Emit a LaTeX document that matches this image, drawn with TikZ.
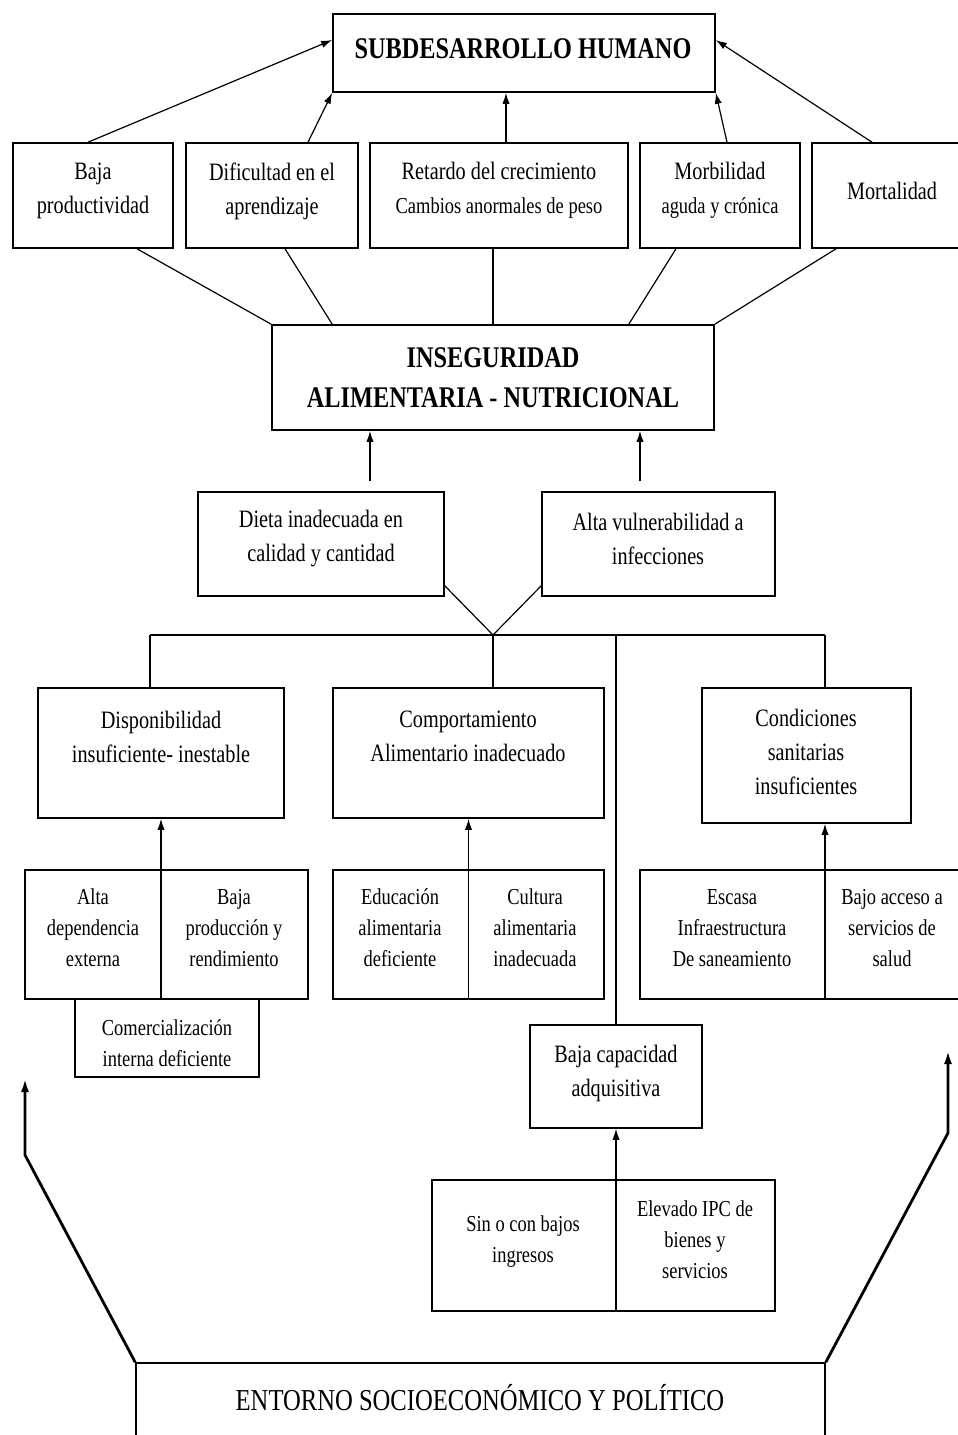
\documentclass[tikz,border=0pt]{standalone}
\usepackage{fontspec}
\setmainfont[FakeStretch=0.81]{Liberation Serif}
\usetikzlibrary{arrows.meta,fit,calc}
\begin{document}
\begin{tikzpicture}[x=0.5pt,y=-0.5pt,
 box/.style={draw, line width=0.8pt, inner sep=0pt},
 txt/.style={align=center, inner sep=0pt, font=\fontsize{12.5}{17}\selectfont},
 stxt/.style={align=center, inner sep=0pt, font=\fontsize{11.4}{15.5}\selectfont},
 btxt/.style={align=center, inner sep=0pt, font=\bfseries\fontsize{15}{20}\selectfont},
 ln/.style={line width=0.6pt},
 arr/.style={line width=0.6pt, -{Latex[length=5.5pt,width=3.6pt]}},
 bigarr/.style={line width=1.4pt, -{Latex[length=7pt,width=4pt]}}
]
\useasboundingbox (0,0) rectangle (958,1435);
% boxes
\node[box, fit={(333,14) (715,92)}] (sub) {};
\node[box, fit={(13,143) (173,248)}] (bajap) {};
\node[box, fit={(186,143) (358,248)}] (difi) {};
\node[box, fit={(370,143) (628,248)}] (reta) {};
\node[box, fit={(640,143) (800,248)}] (morb) {};
\node[box, fit={(812,143) (962,248)}] (mort) {};
\node[box, fit={(272,325) (714,430)}] (ins) {};
\node[box, fit={(198,492) (444,596)}] (dieta) {};
\node[box, fit={(542,492) (775,596)}] (vuln) {};
\node[box, fit={(38,688) (284,818)}] (dispo) {};
\node[box, fit={(333,688) (604,818)}] (comp) {};
\node[box, fit={(702,688) (911,823)}] (cond) {};
\node[box, fit={(25,870) (308,999)}] (pairL) {};
\node[box, fit={(333,870) (604,999)}] (pairM) {};
\node[box, fit={(640,870) (962,999)}] (pairR) {};
\node[box, fit={(75,999) (259,1077)}] (comer) {};
\node[box, fit={(530,1025) (702,1128)}] (bcap) {};
\node[box, fit={(432,1180) (775,1311)}] (pairB) {};
\node[box, fit={(136,1363) (825,1445)}] (ent) {};
% texts
\node[btxt] (t-sub) at (523,49) {SUBDESARROLLO HUMANO};
\node[txt] (t-bajap) at (93,191) {Baja\\productividad};
\node[txt] (t-difi) at (272,191) {Dificultad en el\\aprendizaje};
\node[txt] (t-reta) at (499,190) {Retardo del crecimiento\\{\fontsize{11.4}{15.5}\selectfont Cambios anormales de peso}};
\node[txt] (t-morb) at (720,190) {Morbilidad\\{\fontsize{11.4}{15.5}\selectfont aguda y crónica}};
\node[txt] (t-mort) at (892,191) {Mortalidad};
\node[btxt] (t-ins) at (493,378) {INSEGURIDAD\\ALIMENTARIA - NUTRICIONAL};
\node[txt] (t-dieta) at (321,539) {Dieta inadecuada en\\calidad y cantidad};
\node[txt] (t-vuln) at (658,539) {Alta vulnerabilidad a\\infecciones};
\node[txt] (t-dispo) at (161,737) {Disponibilidad\\insuficiente- inestable};
\node[txt] (t-comp) at (468,736) {Comportamiento\\Alimentario inadecuado};
\node[txt] (t-cond) at (806,752) {Condiciones\\sanitarias\\insuficientes};
\node[stxt] (t-alta) at (93,928) {Alta\\dependencia\\externa};
\node[stxt] (t-bprod) at (234,928) {Baja\\producción y\\rendimiento};
\node[stxt] (t-edu) at (400,928) {Educación\\alimentaria\\deficiente};
\node[stxt] (t-cul) at (535,928) {Cultura\\alimentaria\\inadecuada};
\node[stxt] (t-esc) at (732,928) {Escasa\\Infraestructura\\De saneamiento};
\node[stxt] (t-acc) at (892,928) {Bajo acceso a\\servicios de\\salud};
\node[stxt] (t-comer) at (167,1043) {Comercialización\\interna deficiente};
\node[txt] (t-bcap) at (616,1073) {Baja capacidad\\adquisitiva};
\node[stxt] (t-sin) at (523,1242) {Sin o con bajos\\ingresos};
\node[stxt] (t-ipc) at (695,1240) {Elevado IPC de\\bienes y\\servicios};
\node[inner sep=0pt, font=\fontsize{15.2}{18}\selectfont] (t-ent) at (480,1398) {ENTORNO SOCIOECONÓMICO Y POLÍTICO};
% arrows to SUBDESARROLLO
\draw[arr] ([xshift=-2.5pt]bajap.north) -- ([yshift=6.5pt]sub.west);
\draw[arr] ([xshift=18pt]difi.north) -- (sub.south west);
\coordinate (r1) at ([xshift=3.5pt]reta.north);
\draw[arr] (r1) -- (r1 |- sub.south);
\draw[arr] ([xshift=3.5pt]morb.north) -- (sub.south east);
\draw[arr] ([xshift=-7.5pt]mort.north) -- ([yshift=6.5pt]sub.east);
% lines from INSEGURIDAD
\draw[ln] ([xshift=22pt]bajap.south) -- (ins.north west);
\draw[ln] ([xshift=6.5pt]difi.south) -- ([xshift=30.5pt]ins.north west);
\draw[ln] (ins.north) -- (ins.north |- reta.south);
\draw[ln] ([xshift=-22pt]morb.south) -- ([xshift=-43pt]ins.north east);
\draw[ln] ([xshift=-25.5pt]mort.south) -- (ins.north east);
% arrows into INSEGURIDAD
\coordinate (d1) at ([xshift=24.5pt,yshift=5pt]dieta.north);
\draw[arr] (d1) -- (d1 |- ins.south);
\coordinate (v1) at ([xshift=-9.25pt,yshift=5pt]vuln.north);
\draw[arr] (v1) -- (v1 |- ins.south);
% V and bus
\coordinate (bus) at (493,635);
\coordinate (busL) at (150,635);
\coordinate (busR) at (825,635);
\coordinate (busB) at (616,635);
\draw[ln] ([yshift=5.5pt]dieta.south east) -- (bus) -- ([yshift=5.5pt]vuln.south west);
\draw[ln] (busL) -- (busR);
\draw[ln] (busL) -- (busL |- dispo.north);
\draw[ln] (bus) -- (bus |- comp.north);
\draw[ln] (busB) -- (bcap.north);
\draw[ln] (busR) -- (busR |- cond.north);
% arrows up from pair boxes
\draw[arr] (dispo.south |- pairL.south) -- (dispo.south);
\draw[arr] (comp.south |- pairM.south) -- (comp.south);
\draw[arr] (busR |- pairR.south) -- (busR |- cond.south);
\draw[arr] (bcap.south |- pairB.south) -- (bcap.south);
% thick arrows from ENTORNO
\coordinate (lk) at (25,1155);
\coordinate (lt) at (25,1078);
\draw[bigarr] (ent.north west) -- (lk) -- (lt);
\coordinate (rk) at (948,1133);
\coordinate (rt) at (948,1050);
\draw[bigarr] (ent.north east) -- (rk) -- (rt);
\end{tikzpicture}
\end{document}
